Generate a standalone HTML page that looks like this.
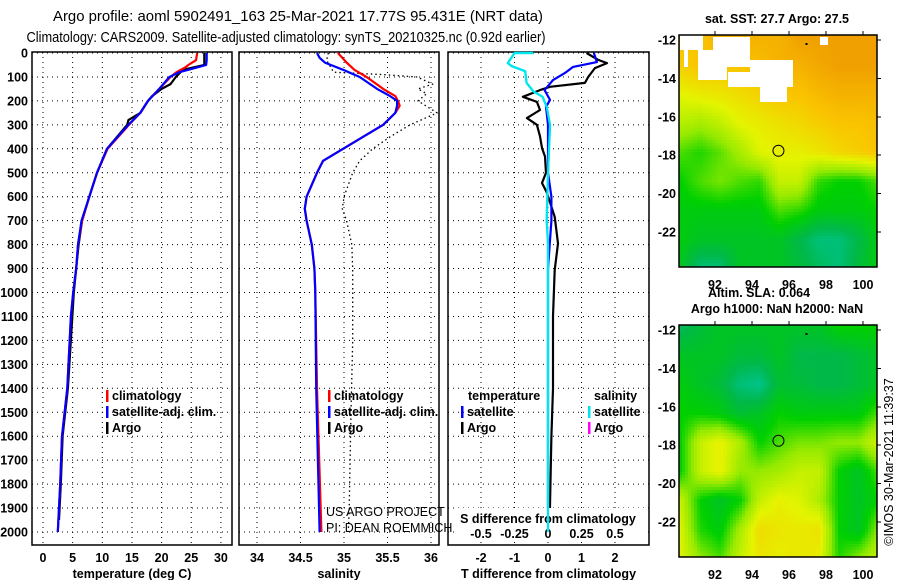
<!DOCTYPE html>
<html><head><meta charset="utf-8"><style>
html,body{margin:0;padding:0;background:#fff;}
svg{display:block;font-family:"Liberation Sans",Arial,sans-serif;}
.b{font-weight:bold;font-size:12.5px;}
</style></head><body>
<svg id="fig" width="900" height="580" viewBox="0 0 900 580" xmlns="http://www.w3.org/2000/svg">
<text x="298" y="21" font-size="15" text-anchor="middle" textLength="490" lengthAdjust="spacingAndGlyphs">Argo profile: aoml 5902491_163 25-Mar-2021 17.77S 95.431E (NRT data)</text>
<text x="286" y="42" font-size="15" text-anchor="middle" textLength="519" lengthAdjust="spacingAndGlyphs">Climatology: CARS2009. Satellite-adjusted climatology: synTS_20210325.nc (0.92d earlier)</text>
<g id="g"></g>
</svg>
<script>
// ---- depth axis ----
const depthTicks = [0,100,200,300,400,500,600,700,800,900,1000,1100,1200,1300,1400,1500,1600,1700,1800,1900,2000];
// ---- temperature panel ----
const tTicks = [0,5,10,15,20,25,30];
const tempDepth = [0,30,50,60,80,100,150,200,250,300,400,500,600,700,800,900,1000,1100,1400,1600,1800,2000];
const tempSat  = [27.6,27.6,27.5,26,23,21.3,19.6,17.7,16.4,14.4,10.8,9.1,7.8,6.5,5.9,5.6,5.1,4.7,4.1,3.2,2.9,2.5];
const tempClim = [26.0,25.8,24.5,24,22.5,21.5,19.6,17.7,16.4,14.5,10.9,9.1,7.8,6.6,5.9,5.6,5.1,4.7,4.1,3.2,2.9,2.5];
const argoTDepth = [0,50,70,100,130,150,180,200,250,280,300,400,500,600,700,800,1000,1400,1600,1800,1950];
const argoTemp   = [27.2,27.2,23.6,22.4,21.5,20,18.4,17.7,16.4,14.4,14.2,10.8,9.1,7.8,6.6,6.0,5.2,4.2,3.3,3.0,2.7];
// ---- salinity panel ----
const sTicks = [34,34.5,35,35.5,36];
const sTickLabels = ['34','34.5','35','35.5','36'];
const salDepth = [0,20,40,70,100,150,180,200,220,250,300,350,400,450,500,600,650,700,800,900,1000,1400,2000];
const salSat  = [34.69,34.72,34.78,34.99,35.18,35.38,35.53,35.61,35.61,35.59,35.45,35.22,34.99,34.76,34.69,34.57,34.55,34.57,34.63,34.66,34.67,34.68,34.72];
const salClim = [34.93,34.98,35.03,35.12,35.26,35.45,35.59,35.62,35.64,35.59,35.45,35.22,34.99,34.76,34.69,34.57,34.55,34.57,34.63,34.66,34.67,34.69,34.74];
const argoSDepth = [0,30,80,90,100,130,150,170,200,250,300,350,400,450,500,600,650,700,800,900,1200,1500,1900,2000];
const argoSal    = [34.82,34.80,34.88,35.45,35.84,36.02,35.85,35.95,35.85,36.07,35.76,35.53,35.33,35.18,35.10,35.00,34.98,35.03,35.09,35.10,35.10,35.08,35.06,35.05];
// ---- difference panel ----
const dTicks = [-2,-1,0,1,2];
const dsTickLabels = ['-0.5','-0.25','0','0.25','0.5'];
const diffDepth = [0,38,58,84,113,155,196,225,300,500,600,700,900,1200,2000];
const dTsat = [1.37,1.46,0.75,0.5,0.15,-0.1,0.06,-0.06,0,0,0.1,0.1,0,0,0];
const argoDDepth = [0,29,42,63,100,125,141,155,183,204,238,272,300,348,397,432,500,543,584,684,795,906,1100,1400,1600,1950];
const dTargo = [1.15,1.5,1.76,1.4,1.2,1.1,0.06,-0.24,-0.75,-0.33,-0.24,-0.63,-0.33,-0.24,-0.18,-0.09,-0.06,-0.18,-0.03,0.2,0.3,0.2,0.15,0.15,0.1,0.05];
const sDiffDepth = [0,0.1,42,55,76,125,160,183,225,300,500,700,800,2000];
const dSsat = [-0.11,-0.25,-0.3,-0.27,-0.17,-0.16,-0.11,-0.04,-0.01,0.015,0,-0.01,0,0];
// ---- maps (coarse grids, 9 rows from -12 to -23.8, 11 cols from 90 to 100.8) ----
const sstGrid = [
 [5,5,5.5,5.5,5.5,5.5,6,6,6,6,6],
 [4.8,5,5,5,5.2,5.5,5.5,5.8,6,6,6],
 [4,4.2,4.3,4.5,4.7,5,5,5.3,5.5,5.5,5.5],
 [3.4,3.2,3.5,4,4.2,4.4,4.6,4.8,5,5,5.2],
 [2.5,2.2,2.6,3.2,3.9,4.1,4.1,4.3,4.6,4.8,5],
 [2,2.5,2.8,2.5,2.3,3.6,3.6,2.3,2,2,2.5],
 [1.8,1.8,1.8,1.8,1.8,2.5,2.3,1.8,1.8,1.8,2],
 [1.8,1.5,1.5,1.5,1.5,1.5,1,0.5,0.5,1,1.8],
 [1.5,0.5,0.5,1.5,1.5,1.5,1.2,0.8,0.5,1.2,1.8]];
const slaGrid = [
 [0.8,1.2,1.5,1.5,1.5,1.5,1.5,1.5,2,2,2],
 [1.5,1.5,1.5,1.2,1.2,1.5,1,1,1,1.2,1.5],
 [1.8,1.5,1.2,0.5,0.3,1.3,1.2,1,1,1.2,1.5],
 [2,2,1.8,1.3,1.5,2,1.8,1.8,1.8,1.8,2.5],
 [2,3.6,4.1,3.3,2,2.5,2.8,2.8,3,3,3.8],
 [2,3.6,4.1,3,3,3.2,3.6,3.6,2,1.5,2.5],
 [3.6,2,1.5,2,3.6,4.1,3.9,3.3,2,1.5,2],
 [3.9,2.2,1.8,3.2,4.5,4.3,4.2,4.4,2,1.5,3],
 [3.9,3,2.5,3.6,4.3,4.1,4.3,4.1,2.2,3,3.6]];
const lonTicks = [92,94,96,98,100];
const latTicks = [-12,-14,-16,-18,-20,-22];

const NS='http://www.w3.org/2000/svg';
const G=document.getElementById('g');
function el(tag,attrs,parent,text){const e=document.createElementNS(NS,tag);for(const k in attrs)e.setAttribute(k,attrs[k]);if(text!==undefined)e.textContent=text;(parent||G).appendChild(e);return e;}
const yD = d => 53 + d*0.2395;
const TOP=52, BOT=545;

function panel(name,x0,x1,xs,ticks,labels,title){
  const g=el('g',{});
  
  
  ticks.forEach((t,i)=>{
    const l=el('line',{x1:xs(t),x2:xs(t),y1:TOP,y2:BOT,stroke:'#000','stroke-width':1,'stroke-dasharray':'1,4'},g);
    
    
    const tl=el('text',{x:xs(t),y:562,'text-anchor':'middle',class:'b'},g,labels[i]);
    
    
  });
  depthTicks.forEach(d=>{
    const l=el('line',{x1:x0,x2:x1,y1:yD(d),y2:yD(d),stroke:'#000','stroke-width':1,'stroke-dasharray':'1,4'},g);
    
    
  });
  const r=el('rect',{x:x0,y:TOP,width:x1-x0,height:BOT-TOP,fill:'none',stroke:'#000','stroke-width':1.5},g);
  
  
  const at=el('text',{x:(x0+x1)/2,y:578,'text-anchor':'middle',class:'b'},g,title);
  
  
  return g;
}
function line(g,xs,xv,dv,color,name,dash){
  const pts=xv.map((v,i)=>xs(v).toFixed(1)+','+yD(dv[i]).toFixed(1)).join(' ');
  const p=el('polyline',{points:pts,fill:'none',stroke:color,'stroke-width':dash?1.3:2.2,'stroke-linejoin':'round'},g);
  if(dash)p.setAttribute('stroke-dasharray',dash);
  
  
}
function legend(g,x,y,color,label,name){
  const b=el('rect',{x:x,y:y-10,width:2.5,height:12,fill:color},g);
  
  
  const t=el('text',{x:x+6,y:y,class:'b'},g,label);
  
  
}
depthTicks.forEach(d=>{
  const t=el('text',{x:28,y:yD(d)+4.5,'text-anchor':'end',class:'b'},G,String(d));
  
  
});
const xT=v=>43+v*5.93;
const p1=panel('temperature-panel',32,232,xT,tTicks,tTicks.map(String),'temperature (deg C)');
line(p1,xT,argoTemp,argoTDepth,'#000','argo-temperature-line');
line(p1,xT,tempClim,tempDepth,'#f00','climatology-temperature-line');
line(p1,xT,tempSat,tempDepth,'#00f','satellite-temperature-line');
legend(p1,106,400,'#f00','climatology','legend-climatology');
legend(p1,106,416,'#00f','satellite-adj. clim.','legend-satellite');
legend(p1,106,432,'#000','Argo','legend-argo');
const xS=v=>257+(v-34)*87;
const p2=panel('salinity-panel',239,439,xS,sTicks,sTickLabels,'salinity');
line(p2,xS,argoSal,argoSDepth,'#000','argo-salinity-line','1.5,3');
line(p2,xS,salClim,salDepth,'#f00','climatology-salinity-line');
line(p2,xS,salSat,salDepth,'#00f','satellite-salinity-line');
legend(p2,328,400,'#f00','climatology','legend-climatology');
legend(p2,328,416,'#00f','satellite-adj. clim.','legend-satellite');
legend(p2,328,432,'#000','Argo','legend-argo');
const c1=el('text',{x:326,y:516,'font-size':12.5},p2,'US ARGO PROJECT');


const c2=el('text',{x:326,y:532,'font-size':12.5},p2,'PI: DEAN ROEMMICH');


const xD=v=>548+v*33.5;
const xDS=v=>548+v*134;
const p3=panel('difference-panel',448,649,xD,dTicks,dTicks.map(String),'T difference from climatology');
line(p3,xD,dTargo,argoDDepth,'#000','argo-temperature-difference-line');
line(p3,xDS,dSsat,sDiffDepth,'#00e5ee','satellite-salinity-difference-line');
line(p3,xD,dTsat,diffDepth,'#00f','satellite-temperature-difference-line');
const lt=el('text',{x:468,y:400,class:'b'},p3,'temperature');


const ls=el('text',{x:594,y:400,class:'b'},p3,'salinity');


legend(p3,461,416,'#00f','satellite','legend-temperature-satellite');
legend(p3,461,432,'#000','Argo','legend-temperature-argo');
legend(p3,588,416,'#00e5ee','satellite','legend-salinity-satellite');
legend(p3,588,432,'#f0f','Argo','legend-salinity-argo');
const sd=el('rect',{x:455,y:508,width:190,height:34,fill:'#fff'},p3);


const st=el('text',{x:548,y:523,'text-anchor':'middle',class:'b'},p3,'S difference from climatology');


dTicks.forEach((t,i)=>{
  const s=el('text',{x:xD(t),y:538,'text-anchor':'middle',class:'b'},p3,dsTickLabels[i]);
  
  
});
line(p3,xDS,dSsat,sDiffDepth,'#00e5ee','satellite-salinity-difference-line-overlay');

const stops=[[0,[0,200,168]],[1,[0,184,72]],[2,[0,208,0]],[3,[150,234,0]],[4,[228,244,0]],[5,[250,196,0]],[6,[240,160,0]]];
function col(v){v=Math.max(0,Math.min(6,v));for(let i=0;i<stops.length-1;i++){if(v<=stops[i+1][0]){const f=(v-stops[i][0]);const a=stops[i][1],b=stops[i+1][1];return 'rgb('+a.map((c,k)=>Math.round(c+(b[k]-c)*f)).join(',')+')';}}return 'rgb(240,160,0)';}
function sample(grid,r,c){const R=grid.length-1,C=grid[0].length-1;const fr=r*R,fc=c*C;const i=Math.min(Math.floor(fr),R-1),j=Math.min(Math.floor(fc),C-1);const u=fr-i,w=fc-j;
  return grid[i][j]*(1-u)*(1-w)+grid[i][j+1]*(1-u)*w+grid[i+1][j]*u*(1-w)+grid[i+1][j+1]*u*w;}
function map(name,grid,top,cell,whites,title){
  const x0=679,x1=877,y0=top,y1=top+232;
  const g=el('g',{'shape-rendering':'crispEdges'});
  
  
  for(let y=y0;y<y1;y+=cell){for(let x=x0;x<x1;x+=cell){
    const v=sample(grid,(y-y0)/(y1-y0),(x-x0)/(x1-x0));
    el('rect',{x:x,y:y,width:Math.min(cell+1,x1-x),height:Math.min(cell+1,y1-y),fill:col(v)},g);
  }}
  whites.forEach(w=>el('rect',{x:w[0],y:w[1],width:w[2]-w[0],height:w[3]-w[1],fill:'#fff'},g));
  const fr=el('rect',{x:x0,y:y0,width:x1-x0,height:y1-y0,fill:'none',stroke:'#000','stroke-width':1.5,'shape-rendering':'auto'},g);
  
  
  const lx=l=>715+(l-92)*18.5, ly=l=>y0+5+(-12-l)*19.2;
  lonTicks.forEach(l=>{
    el('line',{x1:lx(l),x2:lx(l),y1:y0-4,y2:y0,stroke:'#000'},g);
    const t=el('text',{x:lx(l),y:y1+22,'text-anchor':'middle',class:'b'},g,String(l));
    
    
  });
  latTicks.forEach(l=>{
    el('line',{x1:x1,x2:x1+4,y1:ly(l),y2:ly(l),stroke:'#000'},g);
    const t=el('text',{x:676,y:ly(l)+4.5,'text-anchor':'end',class:'b'},g,String(l));
    
    
  });
  const c=el('circle',{cx:lx(95.43),cy:ly(-17.77),r:5.5,fill:'none',stroke:'#000','stroke-width':1,'shape-rendering':'auto'},g);
  
  
  el('rect',{x:lx(96.9),y:ly(-12.2)-1,width:2,height:2,fill:'#000'},g);
  title.forEach(tt=>{
    const t=el('text',{x:tt[1],y:tt[2],'text-anchor':'middle',class:'b'},g,tt[0]);
    
    
  });
}
map('sst-map',sstGrid,35,3,[[680,35,703,50],[684,50,688,67],[698,50,727,80],[713,37,750,67],[728,72,753,87],[750,60,793,87],[760,87,787,102],[820,37,828,45]],[['sat. SST: 27.7 Argo: 27.5',777,23]]);
map('sla-map',slaGrid,325,3,[],[['Altim. SLA: 0.064',759,297],['Argo h1000: NaN h2000: NaN',777,313]]);
const im=el('text',{x:0,y:0,'font-size':12.5,'text-anchor':'middle',transform:'translate(893,462) rotate(-90)'},G,'©IMOS 30-Mar-2021 11:39:37');


</script>
</body></html>
